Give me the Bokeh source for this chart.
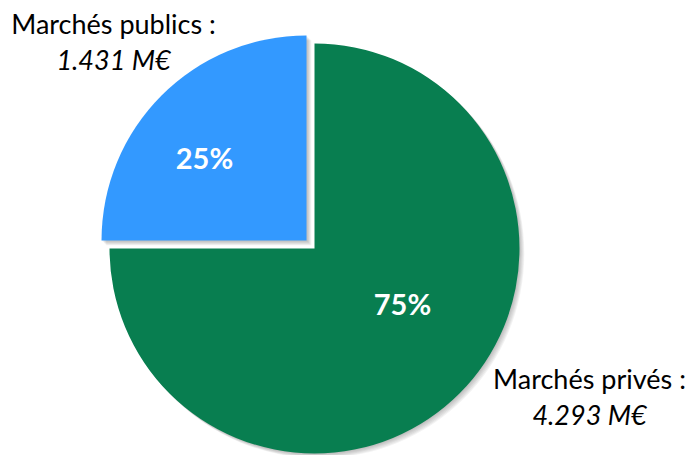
import math
from bokeh.plotting import figure
from bokeh.models import Range1d
from bokeh.core.properties import value
from bokeh.embed import file_html
from bokeh.resources import INLINE

# ---- data ----
categories = ["Marchés publics", "Marchés privés"]
amounts = [1.431, 4.293]          # M€
amount_labels = ["1.431 M€", "4.293 M€"]
colors = ["#3399FF", "#087E50"]

W, H = 693, 455
p = figure(width=W, height=H, output_backend="svg", toolbar_location=None,
           x_range=Range1d(0, W), y_range=Range1d(0, H), min_border=0)
p.axis.visible = False
p.grid.visible = False
p.outline_line_color = None
p.background_fill_color = "white"

total = sum(amounts)
fracs = [a / total for a in amounts]
cx, cy, R = 314, 455 - 248, 205
explode = [11.3, 0.0]
FONT = "Lato"

start = math.pi / 2
wedges = []
for f, e in zip(fracs, explode):
    end = start + f * 2 * math.pi
    mid = (start + end) / 2
    wedges.append((start, end, cx + e * math.cos(mid), cy + e * math.sin(mid)))
    start = end

# draw order: big slice first, then exploded slice (its shadow lies on the big one)
for i in [1, 0]:
    s, e, x, y = wedges[i]
    for k in range(1, 7):
        p.wedge(x=x + k * 0.8, y=y - k * 0.8, radius=R, start_angle=s, end_angle=e,
                fill_color="#555555", fill_alpha=0.07, line_color=None)
    p.wedge(x=x, y=y, radius=R, start_angle=s, end_angle=e,
            fill_color=colors[i], line_color=None)

# percentage labels
pct = [f"{round(f*100)}%" for f in fracs]
pct_pos = [(204, 455 - 157), (402, 455 - 303)]
for t, (x, y) in zip(pct, pct_pos):
    p.text(x=[x], y=[y], text=[t], text_color="white", text_font=value(FONT),
           text_font_size="29px", text_font_style="bold", text_align="center",
           text_baseline="alphabetic")

# category labels
lab_pos = [(113, 455 - 23, 455 - 59), (589, 455 - 378, 455 - 414)]
for c, a, (x, y1, y2) in zip(categories, amount_labels, lab_pos):
    p.text(x=[x], y=[y1], text=[c + " :"], text_color="black", text_font=value(FONT),
           text_font_size="27px", text_align="center", text_baseline="alphabetic")
    p.text(x=[x], y=[y2], text=[a], text_color="black", text_font=value(FONT),
           text_font_size="27px", text_font_style="italic", text_align="center",
           text_baseline="alphabetic")

open("out.html", "w").write(file_html(p, INLINE))
